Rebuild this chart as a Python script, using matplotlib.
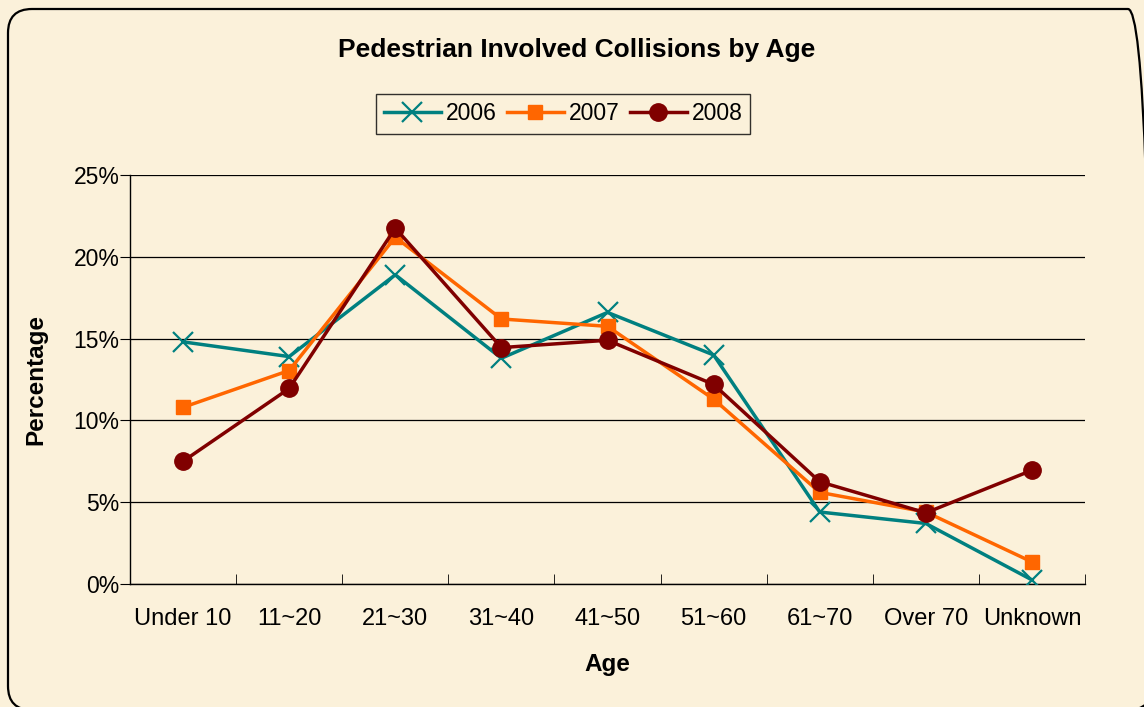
import matplotlib.pyplot as plt
from matplotlib.patches import FancyBboxPatch
from matplotlib.ticker import PercentFormatter

plt.rcParams['font.family'] = ['Liberation Sans', 'DejaVu Sans']

ages = ["Under 10", "11~20", "21~30", "31~40", "41~50", "51~60", "61~70", "Over 70", "Unknown"]
pct_2006 = [14.8, 13.9, 18.9, 13.8, 16.6, 14.0, 4.4, 3.7, 0.25]
pct_2007 = [10.8, 13.05, 21.2, 16.2, 15.75, 11.3, 5.6, 4.4, 1.35]
pct_2008 = [7.5, 11.95, 21.75, 14.45, 14.9, 12.2, 6.25, 4.35, 6.95]

bg = "#FBF1DA"

fig = plt.figure(figsize=(11.44, 7.07), dpi=100)
fig.patch.set_facecolor(bg)

# background axes in pixel units for the rounded frame
bgax = fig.add_axes([0, 0, 1, 1])
bgax.set_xlim(0, 1144)
bgax.set_ylim(0, 707)
bgax.axis("off")
bgax.add_patch(FancyBboxPatch((8, -3), 1144, 701,
                              boxstyle="round,pad=0,rounding_size=24",
                              facecolor="none", edgecolor="black", linewidth=1.6))

ax = fig.add_axes([130 / 1144, 123 / 707, 955 / 1144, 409 / 707])
ax.set_facecolor("none")

x = range(len(ages))
ax.plot(x, pct_2006, color="#008080", lw=2.5, marker="x", ms=15, mew=1.6, label="2006", zorder=3)
ax.plot(x, pct_2007, color="#FF6600", lw=2.5, marker="s", ms=9.5, label="2007", zorder=4)
ax.plot(x, pct_2008, color="#800000", lw=2.5, marker="o", ms=12.5, label="2008", zorder=5)

ax.set_xlim(-0.5, len(ages) - 0.5)
ax.set_ylim(0, 25)
ax.set_yticks([0, 5, 10, 15, 20, 25])
ax.yaxis.set_major_formatter(PercentFormatter(decimals=0))
ax.set_xticks(x)
ax.set_xticklabels(ages)
ax.set_xticks([i + 0.5 for i in range(-1, len(ages))], minor=True)
ax.tick_params(axis="x", which="major", length=0, labelsize=17, pad=17)
ax.tick_params(axis="x", which="minor", length=7, direction="in")
ax.tick_params(axis="y", length=7, direction="out", labelsize=16.5, pad=0.5)
ax.grid(axis="y", color="black", lw=0.9)
ax.set_axisbelow(True)
for side in ["top", "right"]:
    ax.spines[side].set_visible(False)
ax.spines["left"].set_linewidth(1)
ax.spines["bottom"].set_linewidth(1)

ax.set_xlabel("Age", fontsize=17.5, fontweight="bold", labelpad=17)
ax.set_ylabel("Percentage", fontsize=17.5, fontweight="bold", labelpad=19)

fig.text(577 / 1144, 1 - 50 / 707, "Pedestrian Involved Collisions by Age", ha="center", va="center",
         fontsize=19, fontweight="bold")

leg = fig.legend(loc="center", bbox_to_anchor=(563 / 1144, 1 - 114 / 707), ncol=3,
                 fontsize=16.5, frameon=True, fancybox=False, edgecolor="black",
                 handlelength=2.5, columnspacing=0.45, handletextpad=0.2,
                 borderpad=0.35)
leg.get_frame().set_facecolor("none")
leg.get_frame().set_linewidth(1)

fig.savefig("out.png", dpi=100, facecolor=bg)
